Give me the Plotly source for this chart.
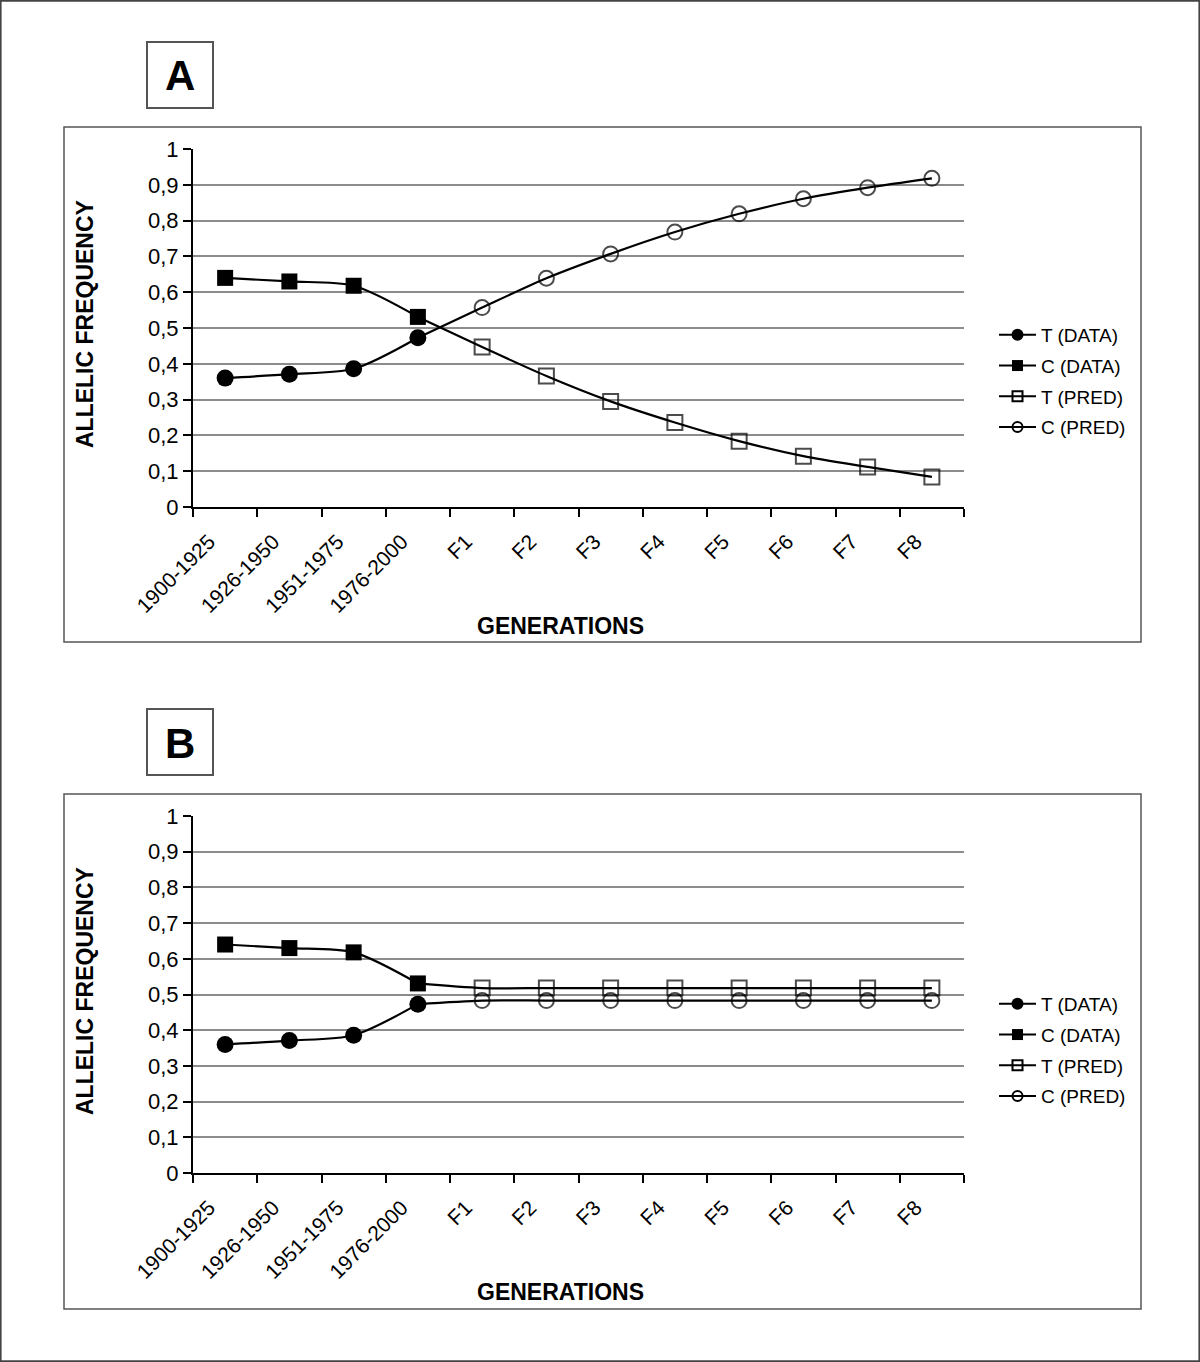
import plotly.graph_objects as go

categories = ["1900-1925", "1926-1950", "1951-1975", "1976-2000",
              "F1", "F2", "F3", "F4", "F5", "F6", "F7", "F8"]
data_cats = categories[:4]
pred_cats = categories[3:]

t_data = [0.360, 0.371, 0.386, 0.473]
c_data = [0.640, 0.630, 0.618, 0.531]

# Panel A predictions (F1..F8)
a_t_pred = [0.447, 0.366, 0.295, 0.236, 0.184, 0.142, 0.112, 0.084]
a_c_pred = [0.557, 0.639, 0.707, 0.768, 0.819, 0.861, 0.892, 0.918]

# Panel B predictions (F1..F8)
b_t_pred = [0.518, 0.518, 0.518, 0.518, 0.518, 0.518, 0.518, 0.518]
b_c_pred = [0.483, 0.483, 0.483, 0.483, 0.483, 0.483, 0.483, 0.483]

y_tickvals = [0, 0.1, 0.2, 0.3, 0.4, 0.5, 0.6, 0.7, 0.8, 0.9, 1]
y_ticktext = ["0", "0,1", "0,2", "0,3", "0,4", "0,5", "0,6", "0,7", "0,8", "0,9", "1"]

series_names = ["T (DATA)", "C (DATA)", "T (PRED)", "C (PRED)"]

FONT = "Liberation Sans, Arial, sans-serif"
W, H = 1200, 1362

def py(px):
    return 1 - px / H

def pxx(px):
    return px / W

MARKERS = {
    "T (DATA)": dict(symbol="circle", color="black", line=dict(color="black", width=0)),
    "C (DATA)": dict(symbol="square", color="black", line=dict(color="black", width=0)),
    "T (PRED)": dict(symbol="square", color="rgba(0,0,0,0)", line=dict(color="black", width=2)),
    "C (PRED)": dict(symbol="circle", color="rgba(0,0,0,0)", line=dict(color="black", width=2)),
}
PLOT_SIZE = {"T (DATA)": 17, "C (DATA)": 16, "T (PRED)": 15, "C (PRED)": 15}
LEG_SIZE = {"T (DATA)": 12, "C (DATA)": 11, "T (PRED)": 10, "C (PRED)": 10}

fig = go.Figure()

panels = [
    ("x", "y", "legend", "a", a_t_pred, a_c_pred),
    ("x2", "y2", "legend2", "b", b_t_pred, b_c_pred),
]

for xa, ya, leg, tag, t_pred, c_pred in panels:
    line = dict(color="black", width=2.2, shape="spline", smoothing=0.8)
    series = {
        # Prediction series start at the last observed value (no marker there)
        "T (PRED)": (pred_cats, [c_data[-1]] + t_pred),
        "C (PRED)": (pred_cats, [t_data[-1]] + c_pred),
        "T (DATA)": (data_cats, t_data),
        "C (DATA)": (data_cats, c_data),
    }
    for name in ["T (PRED)", "C (PRED)", "T (DATA)", "C (DATA)"]:
        xs, ys = series[name]
        size = PLOT_SIZE[name]
        if "PRED" in name:
            size = [0] + [PLOT_SIZE[name]] * (len(xs) - 1)
        fig.add_trace(go.Scatter(
            x=xs, y=ys, name=name, mode="lines+markers", xaxis=xa, yaxis=ya,
            line=line, marker=dict(size=size, **MARKERS[name]),
            showlegend=False, legendgroup=tag + name))
    # legend entries (legend-only, no data)
    for name in series_names:
        fig.add_trace(go.Scatter(
            x=[None], y=[None], name=name, mode="lines+markers", xaxis=xa, yaxis=ya,
            line=dict(color="black", width=2), marker=dict(size=LEG_SIZE[name], **MARKERS[name]),
            legend=leg, legendgroup=tag + name, showlegend=True))

xdom = [pxx(193), pxx(964)]
xaxis_common = dict(
    type="category", categoryorder="array", categoryarray=categories,
    range=[-0.5, 11.5], domain=xdom, tickangle=-45, tickson="boundaries",
    ticks="outside", ticklen=8, tickwidth=2, tickcolor="black",
    showline=True, linecolor="black", linewidth=2, showgrid=False,
    tickfont=dict(family=FONT, size=21, color="black"), zeroline=False,
    ticklabelstandoff=12, ticklabelshift=-16,
    automargin=False,
)
yaxis_common = dict(
    range=[0, 1], tickvals=y_tickvals, ticktext=y_ticktext,
    ticks="outside", ticklen=8, tickwidth=2, tickcolor="black",
    showline=True, linecolor="black", linewidth=2,
    showgrid=True, gridcolor="#8c8c8c", gridwidth=1.5, zeroline=False,
    tickfont=dict(family=FONT, size=22, color="black"),
    automargin=False,
)

fig.update_layout(
    xaxis=dict(**xaxis_common, anchor="y"),
    yaxis=dict(**yaxis_common, domain=[py(507), py(149)], anchor="x"),
    xaxis2=dict(**xaxis_common, anchor="y2"),
    yaxis2=dict(**yaxis_common, domain=[py(1173), py(816)], anchor="x2"),
)

legend_common = dict(
    font=dict(family=FONT, size=19, color="black"),
    bgcolor="rgba(0,0,0,0)", tracegroupgap=3, itemwidth=37,
    xanchor="left", yanchor="top", traceorder="grouped",
)
fig.update_layout(
    legend=dict(**legend_common, x=pxx(994), y=py(316)),
    legend2=dict(**legend_common, x=pxx(994), y=py(985)),
)

shapes = []
# outer frame
shapes.append(dict(type="rect", xref="paper", yref="paper", x0=0.0005, x1=0.9995, y0=0.0005, y1=0.9995,
                   line=dict(color="#444444", width=2)))
for top, bot, ltop, lbot in [(127, 642, 42, 108), (794, 1309, 709, 775)]:
    shapes.append(dict(type="rect", xref="paper", yref="paper",
                       x0=pxx(64), x1=pxx(1141), y0=py(bot), y1=py(top),
                       line=dict(color="#555555", width=1.5)))
    shapes.append(dict(type="rect", xref="paper", yref="paper",
                       x0=pxx(147), x1=pxx(213), y0=py(lbot), y1=py(ltop),
                       line=dict(color="#555555", width=2)))

annotations = []
for label, ltop, mid_y, gen_y in [("A", 42, 324, 626), ("B", 709, 991, 1292)]:
    annotations.append(dict(text="<b>%s</b>" % label, xref="paper", yref="paper",
                            x=pxx(180), y=py(ltop + 34), showarrow=False,
                            font=dict(family=FONT, size=42, color="black"),
                            xanchor="center", yanchor="middle"))
    annotations.append(dict(text="<b>ALLELIC FREQUENCY</b>", xref="paper", yref="paper",
                            x=pxx(85), y=py(mid_y), showarrow=False, textangle=-90,
                            font=dict(family=FONT, size=23, color="black"),
                            xanchor="center", yanchor="middle"))
    annotations.append(dict(text="<b>GENERATIONS</b>", xref="paper", yref="paper",
                            x=pxx(560), y=py(gen_y), showarrow=False,
                            font=dict(family=FONT, size=23, color="black"),
                            xanchor="center", yanchor="middle"))

fig.update_layout(
    width=W, height=H, margin=dict(l=0, r=0, t=0, b=0, autoexpand=False),
    paper_bgcolor="white", plot_bgcolor="white",
    shapes=shapes, annotations=annotations, showlegend=True,
    font=dict(family=FONT, color="black"),
)

fig.write_html("out.html", config={"displayModeBar": False},
               post_script="document.body.style.margin='0';document.body.style.overflow='hidden';")
